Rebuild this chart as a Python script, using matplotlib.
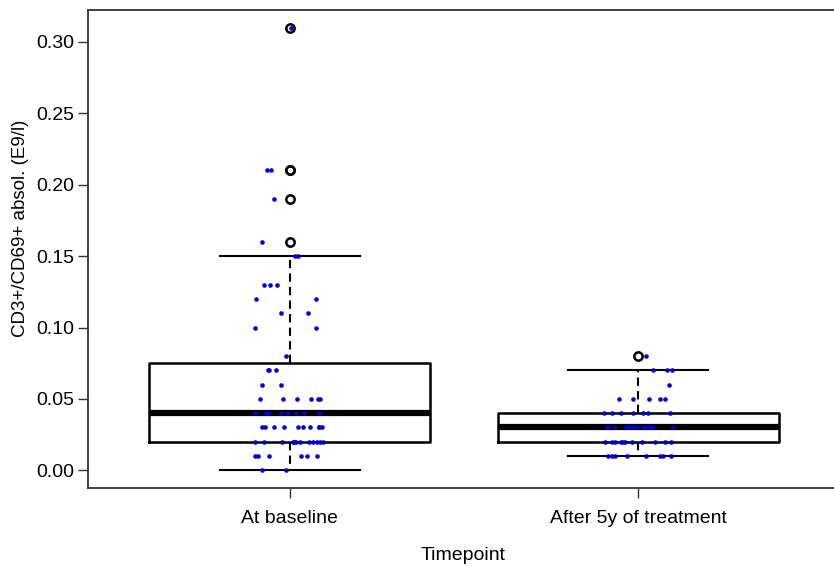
import numpy as np
import matplotlib
matplotlib.use("Agg")
import matplotlib.pyplot as plt

# values (E9/l), one list per timepoint
groups = ["At baseline", "After 5y of treatment"]

baseline = [
    0.00, 0.00,
    0.01, 0.01, 0.01, 0.01, 0.01, 0.01,
    0.02, 0.02, 0.02, 0.02, 0.02, 0.02, 0.02, 0.02, 0.02, 0.02, 0.02, 0.02, 0.02,
    0.03, 0.03, 0.03, 0.03, 0.03, 0.03, 0.03, 0.03, 0.03, 0.03,
    0.04, 0.04, 0.04, 0.04, 0.04, 0.04, 0.04, 0.04, 0.04,
    0.05, 0.05, 0.05, 0.05, 0.05, 0.05,
    0.06, 0.06,
    0.07, 0.07, 0.07,
    0.08,
    0.10, 0.10,
    0.11, 0.11,
    0.12, 0.12,
    0.13, 0.13, 0.13,
    0.15, 0.15,
    0.16,
    0.19,
    0.21, 0.21,
    0.31,
]
# horizontal jitter of each dot, as seen in the picture
baseline_jit = [
    -0.080, -0.010,
    -0.100, -0.091, -0.061, 0.031, 0.048, 0.077,
    -0.100, -0.075, -0.024, 0.008, 0.012, 0.017, 0.029, 0.055, 0.067, 0.077, 0.086, 0.096, 0.012,
    -0.079, -0.072, -0.046, -0.017, 0.024, 0.038, 0.057, 0.083, 0.091, 0.083,
    -0.100, -0.069, -0.059, -0.027, -0.005, 0.017, 0.041, 0.083, -0.069,
    -0.087, -0.021, 0.020, 0.060, 0.080, 0.086,
    -0.080, -0.027,
    -0.064, -0.059, -0.040,
    -0.010,
    -0.100, 0.074,
    -0.027, 0.053,
    -0.097, 0.074,
    -0.075, -0.056, -0.037,
    0.014, 0.022,
    -0.080,
    -0.046,
    -0.067, -0.055,
    0.003,
]

after5y = [
    0.01, 0.01, 0.01, 0.01, 0.01, 0.01, 0.01, 0.01,
    0.02, 0.02, 0.02, 0.02, 0.02, 0.02, 0.02, 0.02, 0.02, 0.02, 0.02,
    0.03, 0.03, 0.03, 0.03, 0.03, 0.03, 0.03, 0.03, 0.03, 0.03, 0.03, 0.03, 0.03,
    0.04, 0.04, 0.04, 0.04, 0.04, 0.04, 0.04,
    0.05, 0.05, 0.05, 0.05, 0.05,
    0.06,
    0.07, 0.07, 0.07,
    0.08,
]
after5y_jit = [
    -0.085, -0.076, -0.066, -0.031, 0.023, 0.063, 0.071, 0.094,
    -0.094, -0.075, -0.066, -0.050, -0.044, -0.037, -0.018, 0.011, 0.049, 0.078, 0.094,
    -0.090, -0.085, -0.069, -0.034, -0.027, -0.018, -0.011, -0.004, 0.015, 0.025, 0.034, 0.044, 0.100,
    -0.097, -0.075, -0.050, -0.015, 0.015, 0.028, 0.092,
    -0.054, -0.015, 0.030, 0.063, 0.076,
    0.089,
    0.044, 0.082, 0.097,
    0.022,
]

yticks = [0.00, 0.05, 0.10, 0.15, 0.20, 0.25, 0.30]


def fivenum(x):
    # Tukey hinges, the way R's boxplot computes them
    x = np.sort(np.asarray(x))
    n = len(x)
    n4 = np.floor((n + 3) / 2) / 2
    d = np.array([1, n4, (n + 1) / 2, n + 1 - n4, n]) - 1
    return 0.5 * (x[np.floor(d).astype(int)] + x[np.ceil(d).astype(int)])


def box_stats(x, label):
    x = np.asarray(x)
    lo, q1, med, q3, hi = fivenum(x)
    iqr = q3 - q1
    lo_lim = q1 - 1.5 * iqr - 1e-9
    hi_lim = q3 + 1.5 * iqr + 1e-9
    inside = x[(x >= lo_lim) & (x <= hi_lim)]
    fliers = x[(x < lo_lim) | (x > hi_lim)]
    return dict(med=med, q1=q1, q3=q3, whislo=inside.min(), whishi=inside.max(),
                fliers=fliers, label=label)


plt.rcParams['font.family'] = ['Liberation Sans', 'DejaVu Sans']

fig = plt.figure(figsize=(8.34, 5.66), dpi=100)
ax = fig.add_axes([88 / 834, 78 / 566, 752 / 834, 478 / 566])

stats = [box_stats(baseline, groups[0]), box_stats(after5y, groups[1])]
ax.bxp(stats, positions=[1, 2], widths=0.807, capwidths=0.40,
       boxprops=dict(color='black', linewidth=1.8),
       medianprops=dict(color='black', linewidth=4.5, solid_capstyle='butt'),
       whiskerprops=dict(color='black', linewidth=1.5, linestyle=(0, (4, 2.5))),
       capprops=dict(color='black', linewidth=1.5),
       flierprops=dict(marker='o', markerfacecolor='none', markeredgecolor='black',
                       markersize=6, markeredgewidth=1.8))

# jittered raw values on top
ax.plot(1 + np.array(baseline_jit), baseline, 'o', color='#0000cc', ms=3.3, mew=0, zorder=5)
ax.plot(2 + np.array(after5y_jit), after5y, 'o', color='#0000cc', ms=3.3, mew=0, zorder=5)

ax.set_xlim(0.42, 2.58)
ax.set_ylim(-0.0124, 0.3224)
ax.set_xticks([1, 2])
ax.set_xticklabels(groups)
ax.set_yticks(yticks)
ax.set_yticklabels([f"{t:.2f}" for t in yticks])
ax.tick_params(axis='y', length=7, width=1, pad=3, labelsize=14, color='#333333')
ax.tick_params(axis='x', length=7, width=1, pad=9, labelsize=14, color='#333333')
for s in ax.spines.values():
    s.set_color('#333333')
    s.set_linewidth(1.3)

fig.text(21 / 834, 1 - 228 / 566, "CD3+/CD69+ absol. (E9/l)", rotation=90,
         ha='center', va='center', fontsize=13.5)
fig.text(463 / 834, 1 - 555 / 566, "Timepoint", ha='center', va='center', fontsize=14)

fig.savefig("out.png", dpi=100)
